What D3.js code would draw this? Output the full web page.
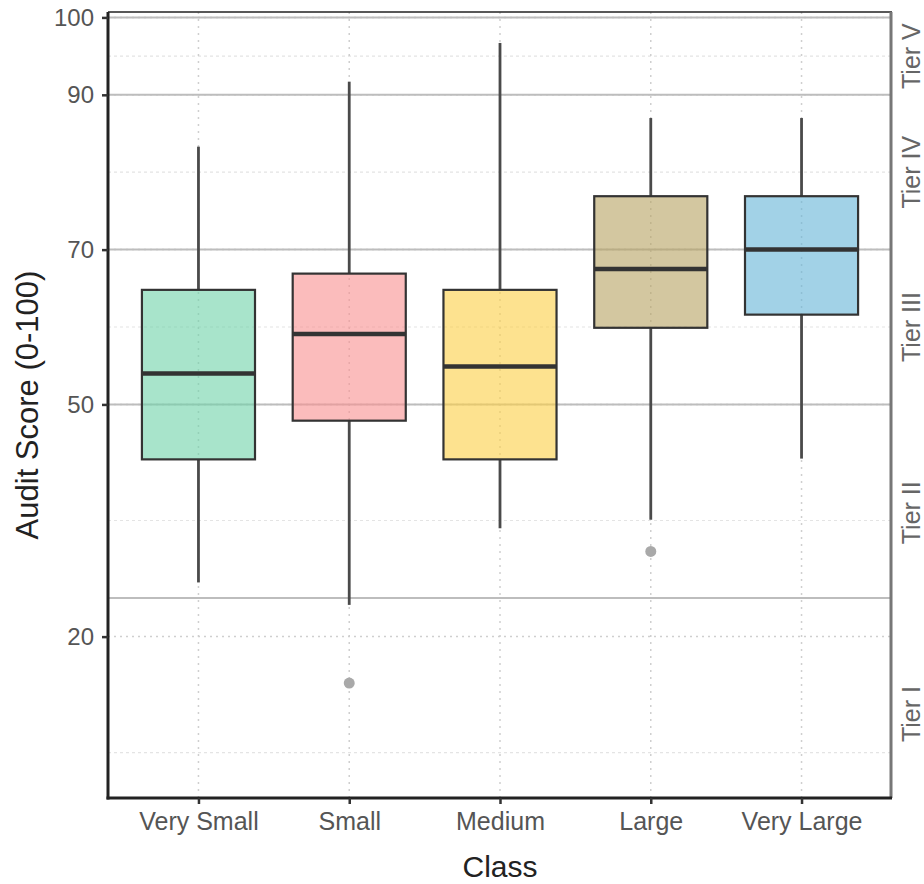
<!DOCTYPE html>
<html>
<head>
<meta charset="utf-8">
<script src="https://cdn.jsdelivr.net/npm/d3@7"></script>
<style>
  body { margin: 0; background: #fff; }
  svg { display: block; font-family: "Liberation Sans", Arial, sans-serif; }
</style>
</head>
<body>
<div id="chart"></div>
<script>
// Audit score box plot by class, with tier bands
const classes = ['Very Small', 'Small', 'Medium', 'Large', 'Very Large'];
const whiskerLow = [27.0, 24.1, 34.0, 35.1, 43.0];
const q1 = [42.9, 47.9, 42.9, 59.9, 61.6];
const median = [54.0, 59.1, 54.9, 67.5, 70.0];
const q3 = [64.8, 66.9, 64.8, 76.9, 76.9];
const whiskerHigh = [83.3, 91.7, 96.7, 87.0, 87.0];
const outliers = [[], [14.0], [], [31.0], []];
const fills = ['#6ed2a8', '#f88f8f', '#fccf44', '#b6a261', '#64b4d7'];

const yTicks = [20, 50, 70, 90, 100];
const yMinor = [5, 35, 60, 80, 95];
const tierBreaks = [25, 50, 70, 90, 100];
const tierLabels = ['Tier I', 'Tier II', 'Tier III', 'Tier IV', 'Tier V'];
const tierLabelAt = [10, 36, 60, 80, 95];

const width = 924;
const height = 884;
const margin = { top: 12, right: 32, bottom: 86, left: 108 };

const svg = d3.select('#chart')
  .append('svg')
  .attr('width', width)
  .attr('height', height);

const x = d3.scalePoint()
  .domain(classes)
  .range([margin.left, width - margin.right])
  .padding(0.6);

const y = d3.scaleLinear()
  .domain([-0.85, 100.7])
  .range([height - margin.bottom, margin.top]);

const x0 = margin.left, x1 = width - margin.right;
const y0 = height - margin.bottom, y1 = margin.top;

// grid
const grid = svg.append('g');
grid.selectAll('.minor')
  .data(yMinor)
  .enter().append('line')
  .attr('x1', x0).attr('x2', x1)
  .attr('y1', d => y(d)).attr('y2', d => y(d))
  .attr('stroke', '#e4e4e4').attr('stroke-width', 1.2)
  .attr('stroke-dasharray', '3,3');

grid.selectAll('.major')
  .data(yTicks)
  .enter().append('line')
  .attr('x1', x0).attr('x2', x1)
  .attr('y1', d => y(d)).attr('y2', d => y(d))
  .attr('stroke', '#cfcfcf').attr('stroke-width', 1.5)
  .attr('stroke-dasharray', '2,4');

grid.selectAll('.vgrid')
  .data(classes)
  .enter().append('line')
  .attr('x1', d => x(d)).attr('x2', d => x(d))
  .attr('y1', y0).attr('y2', y1)
  .attr('stroke', '#cfcfcf').attr('stroke-width', 1.5)
  .attr('stroke-dasharray', '2,5');

// tier boundaries
svg.append('g')
  .selectAll('line')
  .data(tierBreaks)
  .enter().append('line')
  .attr('x1', x0).attr('x2', x1)
  .attr('y1', d => y(d)).attr('y2', d => y(d))
  .attr('stroke', '#bdbdbd').attr('stroke-width', 2);

// boxes
const boxW = x.step() * 0.75;
const boxes = svg.append('g')
  .selectAll('g')
  .data(classes.map((c, i) => ({
    c, lo: whiskerLow[i], q1: q1[i], med: median[i], q3: q3[i], hi: whiskerHigh[i],
    out: outliers[i], fill: fills[i]
  })))
  .enter().append('g');

boxes.append('line')
  .attr('x1', d => x(d.c)).attr('x2', d => x(d.c))
  .attr('y1', d => y(d.q3)).attr('y2', d => y(d.hi))
  .attr('stroke', '#4a4a4a').attr('stroke-width', 2.8);

boxes.append('line')
  .attr('x1', d => x(d.c)).attr('x2', d => x(d.c))
  .attr('y1', d => y(d.q1)).attr('y2', d => y(d.lo))
  .attr('stroke', '#4a4a4a').attr('stroke-width', 2.8);

boxes.append('rect')
  .attr('x', d => x(d.c) - boxW / 2)
  .attr('y', d => y(d.q3))
  .attr('width', boxW)
  .attr('height', d => y(d.q1) - y(d.q3))
  .attr('fill', d => d.fill)
  .attr('fill-opacity', 0.6)
  .attr('stroke', '#333').attr('stroke-width', 2.2);

boxes.append('line')
  .attr('x1', d => x(d.c) - boxW / 2).attr('x2', d => x(d.c) + boxW / 2)
  .attr('y1', d => y(d.med)).attr('y2', d => y(d.med))
  .attr('stroke', '#333').attr('stroke-width', 4.5);

boxes.selectAll('circle')
  .data(d => d.out.map(v => ({ c: d.c, v })))
  .enter().append('circle')
  .attr('cx', d => x(d.c))
  .attr('cy', d => y(d.v))
  .attr('r', 5.5)
  .attr('fill', '#a9a9a9');

// panel border
svg.append('line').attr('x1', x0).attr('x2', x1).attr('y1', y1).attr('y2', y1)
  .attr('stroke', '#222').attr('stroke-width', 1.5);
svg.append('line').attr('x1', x1 - 1).attr('x2', x1 - 1).attr('y1', y1).attr('y2', y0)
  .attr('stroke', '#777').attr('stroke-width', 3);

// axes
const yAxis = svg.append('g')
  .attr('transform', `translate(${x0},0)`)
  .call(d3.axisLeft(y).tickValues(yTicks).tickSize(6).tickPadding(8));
yAxis.select('.domain').attr('stroke', '#222').attr('stroke-width', 3)
  .attr('d', `M0,${y1}V${y0 + 1.5}`);
yAxis.selectAll('.tick line').attr('stroke', '#333').attr('stroke-width', 2.5);
yAxis.selectAll('text')
  .style('font-size', '24px')
  .attr('fill', '#555');

const xAxis = svg.append('g')
  .attr('transform', `translate(0,${y0})`)
  .call(d3.axisBottom(x).tickSize(6).tickPadding(8));
xAxis.select('.domain').attr('stroke', '#222').attr('stroke-width', 3)
  .attr('d', `M${x0 - 1.5},0H${x1}`);
xAxis.selectAll('.tick line').attr('stroke', '#333').attr('stroke-width', 2.5);
xAxis.selectAll('text')
  .style('font-size', '25px')
  .attr('fill', '#555');

// tier labels on the right
svg.append('g')
  .selectAll('text')
  .data(tierLabels)
  .enter().append('text')
  .attr('transform', (d, i) => `translate(911,${y(tierLabelAt[i])}) rotate(-90)`)
  .attr('text-anchor', 'middle')
  .attr('dominant-baseline', 'central')
  .style('font-size', '25px')
  .attr('fill', '#666')
  .text(d => d);

// axis titles
svg.append('text')
  .attr('x', (x0 + x1) / 2)
  .attr('y', 877)
  .attr('text-anchor', 'middle')
  .style('font-size', '30px')
  .attr('fill', '#222')
  .text('Class');

svg.append('text')
  .attr('transform', `translate(38,${(y0 + y1) / 2}) rotate(-90)`)
  .attr('text-anchor', 'middle')
  .style('font-size', '31px')
  .attr('fill', '#222')
  .text('Audit Score (0-100)');
</script>
</body>
</html>
